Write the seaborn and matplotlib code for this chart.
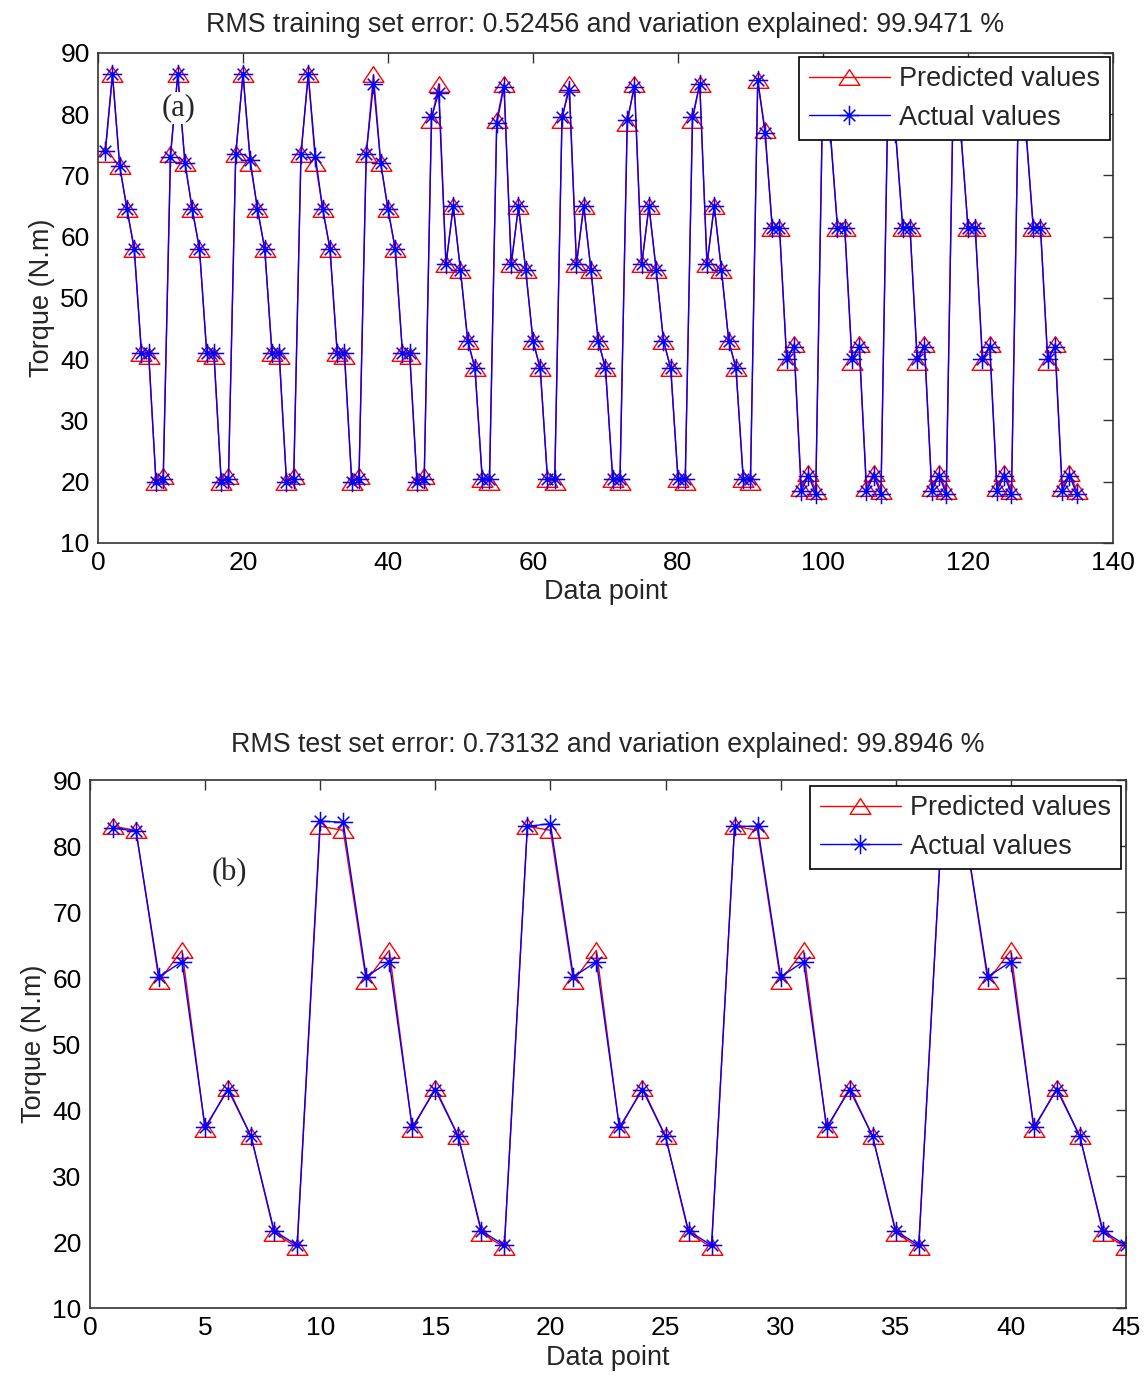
import numpy as np
import pandas as pd
import seaborn as sns
import matplotlib
matplotlib.use("Agg")
import matplotlib.pyplot as plt
from matplotlib.path import Path

# ---- training set (a) : 135 data points ----
train_predicted = [
    73.5, 86.5, 71.5, 64.5, 58, 41, 40.5, 20, 21,
    73.5, 86.5, 72, 64.5, 58, 41, 40.5, 20, 21,
    73.5, 86.5, 72, 64.5, 58, 41, 40.5, 20, 21,
    73.5, 86.5, 72, 64.5, 58, 41, 40.5, 20, 21,
    73.5, 86.5, 72, 64.5, 58, 41, 40.5, 20, 21,
    79, 85, 55.5, 65, 54.5, 43, 38.5, 20.5, 20,
    79, 85, 55.5, 65, 54.5, 43, 38.5, 20.5, 20,
    79, 85, 55.5, 65, 54.5, 43, 38.5, 20.5, 20,
    78.5, 85, 55.5, 65, 54.5, 43, 38.5, 20.5, 20,
    79, 85, 55.5, 65, 54.5, 43, 38.5, 20.5, 20,
    85.5, 77.5, 61.5, 61.5, 39.5, 42.5, 19, 21.5, 18.5,
    85.5, 77.5, 61.5, 61.5, 39.5, 42.5, 19, 21.5, 18.5,
    85.5, 77.5, 61.5, 61.5, 39.5, 42.5, 19, 21.5, 18.5,
    85.5, 77.5, 61.5, 61.5, 39.5, 42.5, 19, 21.5, 18.5,
    85.5, 77.5, 61.5, 61.5, 39.5, 42.5, 19, 21.5, 18.5,
]
train_actual = [
    74, 86.5, 71.5, 64.5, 58, 41, 41, 20, 20.5,
    73, 86.5, 72, 64.5, 58, 41, 41, 20, 20.5,
    73.5, 86.5, 72.5, 64.5, 58, 41, 41, 20, 20.5,
    73.5, 86.5, 73, 64.5, 58, 41, 41, 20, 20.5,
    73.5, 85, 72, 64.5, 58, 41, 41, 20, 20.5,
    79.5, 83.5, 55.5, 65, 54.5, 43, 38.5, 20.5, 20.5,
    78.5, 84.5, 55.5, 65, 54.5, 43, 38.5, 20.5, 20.5,
    79.5, 84, 55.5, 65, 54.5, 43, 38.5, 20.5, 20.5,
    79, 84.5, 55.5, 65, 54.5, 43, 38.5, 20.5, 20.5,
    79.5, 85, 55.5, 65, 54.5, 43, 38.5, 20.5, 20.5,
    85.5, 77, 61.5, 61.5, 40, 42, 18.5, 21, 18,
    85.5, 77, 61.5, 61.5, 40, 42, 18.5, 21, 18,
    85.5, 77, 61.5, 61.5, 40, 42, 18.5, 21, 18,
    85.5, 77, 61.5, 61.5, 40, 42, 18.5, 21, 18,
    85.5, 77, 61.5, 61.5, 40, 42, 18.5, 21, 18,
]

# ---- test set (b) : 45 data points ----
test_predicted = [
    83, 82.4, 59.6, 64.2, 37.1, 43.4, 36, 21.4, 19.2,
    83, 82.4, 59.6, 64.2, 37.1, 43.4, 36, 21.4, 19.2,
    83, 82.4, 59.6, 64.2, 37.1, 43.4, 36, 21.4, 19.2,
    83, 82.4, 59.6, 64.2, 37.1, 43.4, 36, 21.4, 19.2,
    83, 82.4, 59.6, 64.2, 37.1, 43.4, 36, 21.4, 19.2,
]
test_actual = [
    82.7, 82.3, 60.2, 62.5, 37.4, 43.1, 36, 21.7, 19.5,
    83.8, 83.6, 60.2, 62.5, 37.4, 43.1, 36, 21.7, 19.5,
    83, 83.4, 60.2, 62.5, 37.4, 43.1, 36, 21.7, 19.5,
    83, 83, 60.2, 62.5, 37.4, 43.1, 36, 21.7, 19.5,
    83, 82.5, 60.2, 62.5, 37.4, 43.1, 36, 21.7, 19.5,
]

train_title = "RMS training set error: 0.52456 and variation explained: 99.9471 %"
test_title = "RMS test set error: 0.73132 and variation explained: 99.8946 %"

sns.set_style("white")
plt.rcParams["font.family"] = ["Liberation Sans", "DejaVu Sans"]

# MATLAB-like markers: flat open triangle, and asterisk (+ with shorter x)
TRIANGLE = Path([(-1, -0.75), (1, -0.75), (0, 0.75), (-1, -0.75)],
                [Path.MOVETO, Path.LINETO, Path.LINETO, Path.CLOSEPOLY])
d = 0.6
ASTERISK = Path([(-1, 0), (1, 0), (0, -1), (0, 1),
                 (-d, -d), (d, d), (-d, d), (d, -d)],
                [Path.MOVETO, Path.LINETO] * 4)


def draw_panel(ax, predicted, actual, title, xmax, xstep, tag, tag_pos,
               legend_anchor, title_pad):
    x = np.arange(1, len(predicted) + 1)
    sns.lineplot(x=x, y=predicted, ax=ax, color="red", lw=1.0,
                 marker=TRIANGLE, ms=15, mfc="none", mec="red", mew=1.0,
                 label="Predicted values")
    sns.lineplot(x=x, y=actual, ax=ax, color="blue", lw=1.0,
                 marker=ASTERISK, ms=14, mfc="none", mec="blue", mew=1.1,
                 label="Actual values")
    ax.set_xlim(0, xmax)
    ax.set_ylim(10, 90)
    ax.set_xticks(np.arange(0, xmax + 1, xstep))
    ax.set_yticks(np.arange(10, 91, 10))
    ax.tick_params(direction="in", length=7, width=1, top=True, right=True,
                   labelsize=19, pad=6, colors="#333333", labelcolor="black")
    for s in ax.spines.values():
        s.set_color("#333333")
        s.set_linewidth(1.2)
    ax.set_title(title, fontsize=19.3, pad=title_pad)
    ax.set_xlabel("Data point", fontsize=19.5, labelpad=3)
    ax.set_ylabel("Torque (N.m)", fontsize=19.5, labelpad=4)
    ax.text(tag_pos[0], tag_pos[1], tag, transform=ax.transAxes,
            family=["Liberation Serif", "DejaVu Serif"], fontsize=22,
            ha="center", va="center",
            bbox=dict(facecolor="white", edgecolor="none", pad=1))
    leg = ax.legend(loc="upper right", bbox_to_anchor=legend_anchor,
                    borderaxespad=0, fontsize=19.5, frameon=True, fancybox=False,
                    handlelength=3.0, handletextpad=0.35, borderpad=0.35,
                    labelspacing=0.45, framealpha=1)
    leg.get_frame().set_edgecolor("black")
    leg.get_frame().set_linewidth(1.2)


fig = plt.figure(figsize=(11.46, 13.82), dpi=100)
ax1 = fig.add_axes([0.0855, 0.6071, 0.8857, 0.3546])
ax2 = fig.add_axes([0.0785, 0.0535, 0.9040, 0.3820])

draw_panel(ax1, train_predicted, train_actual, train_title, 140, 20,
           "(a)", (0.079, 0.888), (0.997, 0.992), 15)
draw_panel(ax2, test_predicted, test_actual, test_title, 45, 5,
           "(b)", (0.135, 0.824), (0.995, 0.989), 20)

fig.savefig("out.png", dpi=100, facecolor="white")
